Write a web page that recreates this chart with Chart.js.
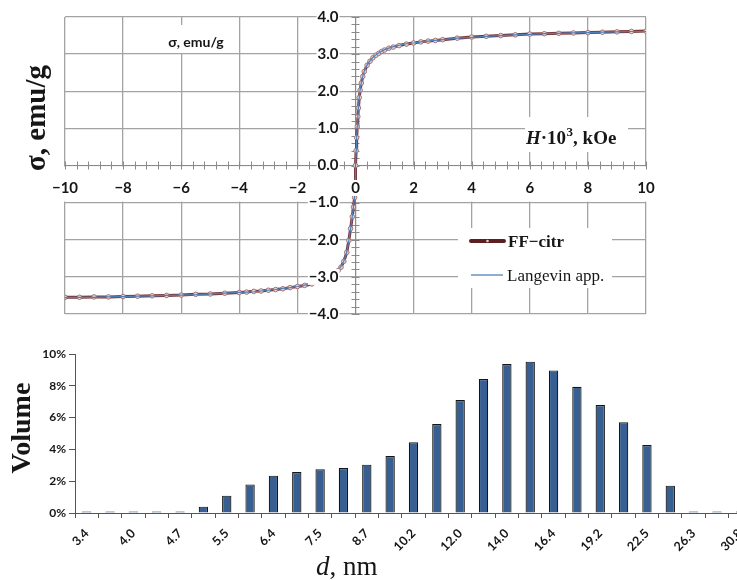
<!DOCTYPE html>
<html>
<head>
<meta charset="utf-8">
<script src="https://cdn.jsdelivr.net/npm/chart.js@4.4.1/dist/chart.umd.min.js"></script>
<style>
  html, body { margin: 0; padding: 0; background: #fff; overflow: hidden; }
  #wrap { position: relative; width: 737px; height: 580px; overflow: hidden; }
  #magChart { position: absolute; left: 0; top: 0; }
  #sizeChart { position: absolute; left: 0; top: 330px; }
</style>
</head>
<body>
<div id="wrap">
  <canvas id="magChart" width="737" height="330"></canvas>
  <canvas id="sizeChart" width="760" height="250"></canvas>
</div>
<script>
'use strict';

// magnetization curve, H in kOe x 10^3
const hField = [
  -10, -9.5, -9, -8.5, -8, -7.5, -7, -6.5, -6, -5.5, -5, -4.5, -4, -3.75, -3.5, -3.25,
  -3, -2.75, -2.5, -2.25, -2, -1.75, -1.5, -1.25, -1, -0.8, -0.6, -0.5, -0.4, -0.3,
  -0.23, -0.17, -0.11, -0.07, -0.03, -0.015, 0, 0.02, 0.04, 0.06, 0.08, 0.1, 0.13,
  0.16, 0.2, 0.25, 0.3, 0.4, 0.5, 0.6, 0.7, 0.8, 0.9, 1, 1.15, 1.3, 1.5, 1.75, 2,
  2.25, 2.5, 2.75, 3, 3.5, 4, 4.5, 5, 5.5, 6, 6.5, 7, 7.5, 8, 8.5, 9, 9.5, 10
];
const sigmaMeasured = [
  -3.55, -3.55, -3.54, -3.54, -3.53, -3.52, -3.51, -3.50, -3.49, -3.47, -3.46, -3.44, -3.42, -3.41, -3.39, -3.38,
  -3.36, -3.34, -3.32, -3.29, -3.26, -3.23, -3.19, -3.13, -3.05, -2.96, -2.83, -2.74, -2.58, -2.34,
  -2.02, -1.70, -1.38, -1.12, -0.86, -0.45, 0.00, 0.40, 0.75, 1.05, 1.32, 1.55, 1.83,
  2.03, 2.22, 2.40, 2.53, 2.70, 2.81, 2.90, 2.97, 3.02, 3.07, 3.11, 3.16, 3.19, 3.23, 3.27, 3.30,
  3.33, 3.35, 3.37, 3.39, 3.43, 3.46, 3.48, 3.50, 3.52, 3.54, 3.55, 3.56, 3.57, 3.58, 3.59, 3.60, 3.61, 3.62
];
const sigmaLangevin = [
  -3.56, -3.55, -3.55, -3.54, -3.53, -3.52, -3.51, -3.50, -3.49, -3.48, -3.46, -3.44, -3.42, -3.41, -3.40, -3.38,
  -3.36, -3.34, -3.31, -3.29, -3.26, -3.22, -3.18, -3.12, -3.04, -2.95, -2.82, -2.72, -2.57, -2.33,
  -2.03, -1.71, -1.36, -1.10, -0.84, -0.44, 0.00, 0.41, 0.76, 1.06, 1.33, 1.56, 1.84,
  2.04, 2.23, 2.41, 2.54, 2.71, 2.82, 2.91, 2.98, 3.03, 3.08, 3.12, 3.16, 3.20, 3.24, 3.28, 3.30,
  3.33, 3.35, 3.37, 3.39, 3.43, 3.45, 3.48, 3.50, 3.52, 3.53, 3.55, 3.56, 3.57, 3.58, 3.59, 3.60, 3.61, 3.61
];
const hTicks = { min: -10, max: 10, step: 2, minor: 0.4 };
const sigmaTicks = { min: -4, max: 4, step: 1, minor: 0.2 };

// volume size distribution
const diameters = [
  '3.4', '3.7', '4.0', '4.3', '4.7', '5.1', '5.5', '6.0', '6.4', '6.9', '7.5', '8.1', '8.7', '9.4', '10.2',
  '11.1', '12.0', '13.0', '14.0', '15.2', '16.4', '17.7', '19.2', '20.8', '22.5', '24.3', '26.3', '28.5', '30.8'
];
const volumePct = [
  0.1, 0.1, 0.1, 0.1, 0.1, 0.40, 1.09, 1.80, 2.35, 2.58, 2.75, 2.83, 3.04, 3.58, 4.45,
  5.60, 7.10, 8.43, 9.37, 9.52, 8.97, 7.94, 6.79, 5.70, 4.28, 1.72, 0.1, 0.1, 0.1
];
const volumeTicks = { min: 0, max: 10, step: 2 };

const SANS = 'Lato, "Open Sans", sans-serif';
const SERIF = '"Liberation Serif", "DejaVu Serif", serif';
const GRID = '#a3a3a3';
const INK = '#161616';

function minusSign(v, digits) {
  const s = Math.abs(v).toFixed(digits);
  return v < 0 ? '\u2212' + s : s;
}

function whiteBox(ctx, x, y, w, h) {
  ctx.fillStyle = '#fff';
  ctx.fillRect(x, y, w, h);
  ctx.fillStyle = INK;
}

// label with a white patch behind it, like the spreadsheet axis labels
function boxedLabel(ctx, text, x, y, align) {
  const w = ctx.measureText(text).width;
  const left = align === 'right' ? x - w : x - w / 2;
  whiteBox(ctx, left - 1, y - 8, w + 2, 16);
  ctx.textAlign = align;
  ctx.fillText(text, x, y);
}

// blank band under the H axis, cross tick marks and the axis labels
const axisDecor = {
  id: 'axisDecor',
  beforeDatasetsDraw(chart) {
    const { ctx, chartArea: area, scales: { x, y } } = chart;
    const y0 = y.getPixelForValue(0);
    const y1 = y.getPixelForValue(-1);
    const x0 = x.getPixelForValue(0);
    ctx.save();
    whiteBox(ctx, area.left - 2, y0 + 1, area.width + 4, y1 - y0 - 2);
    ctx.strokeStyle = '#8a8a8a';
    ctx.lineWidth = 1;
    ctx.beginPath();
    const nx = Math.round((hTicks.max - hTicks.min) / hTicks.minor);
    for (let i = 0; i <= nx; i++) {
      const px = Math.round(x.getPixelForValue(hTicks.min + i * hTicks.minor)) + 0.5;
      ctx.moveTo(px, y0 - 4);
      ctx.lineTo(px, y0 + 4);
    }
    const ny = Math.round((sigmaTicks.max - sigmaTicks.min) / sigmaTicks.minor);
    for (let i = 0; i <= ny; i++) {
      const v = sigmaTicks.min + i * sigmaTicks.minor;
      if (v > -0.99 && v < -0.01) continue;
      const py = Math.round(y.getPixelForValue(v)) + 0.5;
      ctx.moveTo(x0 - 4, py);
      ctx.lineTo(x0 + 4, py);
    }
    ctx.stroke();
    ctx.restore();
  },
  afterDatasetsDraw(chart) {
    const { ctx, scales: { x, y } } = chart;
    const y0 = y.getPixelForValue(0);
    const x0 = x.getPixelForValue(0);
    ctx.save();
    ctx.font = 'bold 15px ' + SANS;
    ctx.textBaseline = 'middle';
    x.ticks.forEach((t) => {
      boxedLabel(ctx, minusSign(t.value, 0), x.getPixelForValue(t.value), y0 + 22.5, 'center');
    });
    y.ticks.forEach((t) => {
      boxedLabel(ctx, minusSign(t.value, 1), x0 - 17, y.getPixelForValue(t.value), 'right');
    });
    ctx.restore();
  },
  afterDraw(chart) {
    const ctx = chart.ctx;
    const ds = chart.data.datasets;
    ctx.save();

    // small label in the upper left quadrant
    whiteBox(ctx, 160, 25, 74, 28);
    ctx.font = 'bold 14px ' + SANS;
    ctx.textAlign = 'center';
    ctx.textBaseline = 'middle';
    ctx.fillText('\u03c3, emu/g', 196, 42);

    // H axis caption
    whiteBox(ctx, 525, 117, 103, 35);
    ctx.textAlign = 'left';
    ctx.textBaseline = 'alphabetic';
    let tx = 526;
    const base = 144;
    ctx.font = 'italic bold 19px ' + SERIF;
    ctx.fillText('H', tx, base);
    tx += ctx.measureText('H').width;
    ctx.font = 'bold 19px ' + SERIF;
    ctx.fillText('\u00b710', tx, base);
    tx += ctx.measureText('\u00b710').width + 0.5;
    ctx.font = 'bold 13px ' + SERIF;
    ctx.fillText('3', tx, base - 8);
    tx += ctx.measureText('3').width;
    ctx.font = 'bold 19px ' + SERIF;
    ctx.fillText(', kOe', tx, base);

    // legend
    whiteBox(ctx, 458, 228, 154, 60);
    ctx.lineCap = 'round';
    ctx.strokeStyle = '#5c1e1e';
    ctx.lineWidth = 4;
    ctx.beginPath();
    ctx.moveTo(471, 241);
    ctx.lineTo(504, 241);
    ctx.stroke();
    ctx.fillStyle = '#d9cfcf';
    ctx.beginPath();
    ctx.arc(487.5, 241, 1.3, 0, Math.PI * 2);
    ctx.fill();
    ctx.lineCap = 'butt';
    ctx.strokeStyle = ds[1].borderColor;
    ctx.lineWidth = 1.3;
    ctx.beginPath();
    ctx.moveTo(471, 275);
    ctx.lineTo(503, 275);
    ctx.stroke();
    ctx.fillStyle = INK;
    ctx.font = 'bold 17px ' + SERIF;
    ctx.fillText(ds[0].label, 508, 247);
    ctx.font = '17px ' + SERIF;
    ctx.fillText(ds[1].label, 507, 281);

    // sigma axis title
    ctx.translate(38, 118);
    ctx.rotate(-Math.PI / 2);
    ctx.textAlign = 'center';
    ctx.textBaseline = 'middle';
    ctx.font = 'bold 29px ' + SERIF;
    ctx.fillText('\u03c3, emu/g', 0, 0);
    ctx.restore();
  }
};

new Chart(document.getElementById('magChart'), {
  type: 'line',
  data: {
    labels: hField,
    datasets: [
      {
        label: 'FF\u2212citr',
        data: hField.map((h, i) => ({ x: h, y: sigmaMeasured[i] })),
        borderColor: '#7a3838',
        borderWidth: 3,
        pointRadius: 2.3,
        pointBorderWidth: 1,
        pointBorderColor: '#a77272',
        pointBackgroundColor: '#ddd6d6',
        order: 2
      },
      {
        label: 'Langevin app.',
        data: hField.map((h, i) => ({ x: h, y: sigmaLangevin[i] })),
        borderColor: '#4f81bd',
        borderWidth: 1.2,
        pointRadius: 0,
        order: 1
      }
    ]
  },
  options: {
    responsive: false,
    animation: false,
    layout: { padding: { left: 65, right: 91, top: 17, bottom: 16 } },
    plugins: { legend: { display: false }, tooltip: { enabled: false } },
    elements: { line: { tension: 0 } },
    scales: {
      x: {
        type: 'linear',
        position: { y: 0 },
        min: hTicks.min,
        max: hTicks.max,
        grid: { color: GRID, lineWidth: 1.3, drawTicks: false },
        border: { display: true, color: '#8a8a8a', width: 1 },
        ticks: { stepSize: hTicks.step, display: false }
      },
      y: {
        type: 'linear',
        position: { x: 0 },
        min: sigmaTicks.min,
        max: sigmaTicks.max,
        grid: { color: GRID, lineWidth: 1.3, drawTicks: false },
        border: { display: true, color: '#8a8a8a', width: 1 },
        ticks: { stepSize: sigmaTicks.step, display: false }
      }
    }
  },
  plugins: [axisDecor]
});

// axis titles for the histogram
const sizeTitles = {
  id: 'sizeTitles',
  afterDraw(chart) {
    const ctx = chart.ctx;
    ctx.save();
    ctx.fillStyle = INK;
    ctx.textBaseline = 'alphabetic';
    ctx.textAlign = 'left';
    let tx = 316;
    ctx.font = 'italic 27px ' + SERIF;
    ctx.fillText('d', tx, 245);
    tx += ctx.measureText('d').width;
    ctx.font = '27px ' + SERIF;
    ctx.fillText(', nm', tx, 245);

    ctx.translate(23, 98);
    ctx.rotate(-Math.PI / 2);
    ctx.textAlign = 'center';
    ctx.textBaseline = 'middle';
    ctx.font = 'bold 28px ' + SERIF;
    ctx.fillText('Volume', 0, 0);
    ctx.restore();
  }
};

new Chart(document.getElementById('sizeChart'), {
  type: 'bar',
  data: {
    labels: diameters,
    datasets: [{
      label: 'Volume',
      data: volumePct,
      backgroundColor: '#375f92',
      borderColor: '#151515',
      borderWidth: 1.2,
      barPercentage: 0.4,
      categoryPercentage: 1
    }]
  },
  options: {
    responsive: false,
    animation: false,
    layout: { padding: { left: 0, right: 8, top: 24, bottom: 0 } },
    plugins: { legend: { display: false }, tooltip: { enabled: false } },
    scales: {
      x: {
        afterFit: (s) => { s.height = 67; },
        grid: { display: true, drawOnChartArea: false, offset: true, tickLength: 5, color: '#555' },
        border: { color: '#555' },
        ticks: {
          autoSkip: false,
          maxRotation: 45,
          minRotation: 45,
          padding: 8,
          color: INK,
          font: { family: SANS, size: 12.5, weight: 'bold' },
          callback: (v, i) => (i % 2 === 0 ? diameters[i] : '')
        }
      },
      y: {
        afterFit: (s) => { s.width = 75; },
        min: volumeTicks.min,
        max: volumeTicks.max,
        grid: { display: true, drawOnChartArea: false, tickLength: 6, color: '#555' },
        border: { color: '#555' },
        ticks: {
          stepSize: volumeTicks.step,
          padding: 3,
          color: INK,
          font: { family: SANS, size: 12, weight: 'bold' },
          callback: (v) => v + '%'
        }
      }
    }
  },
  plugins: [sizeTitles]
});
</script>
</body>
</html>
